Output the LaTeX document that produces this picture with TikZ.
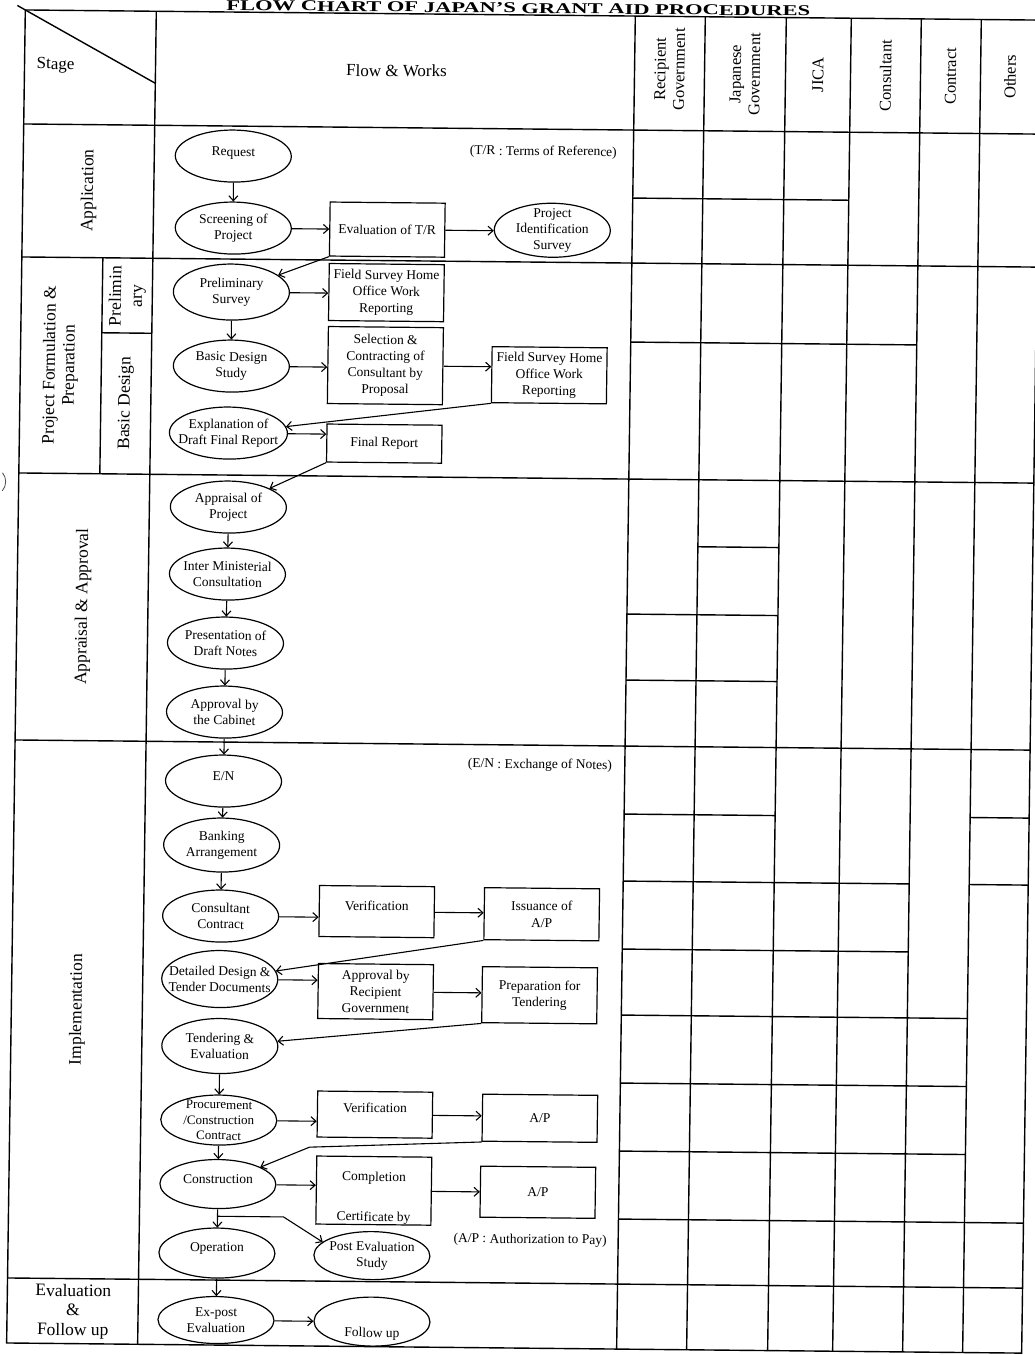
\documentclass[tikz,border=0pt]{standalone}
\usepackage{fontspec}
\setmainfont{Liberation Serif}
\usetikzlibrary{arrows.meta,shapes.geometric}
\tikzset{
  gridline/.style={line width=1.4pt},
  ellshape/.style={draw, ellipse, line width=1.2pt, inner sep=0pt, minimum width=116pt, minimum height=52pt},
  ftxt/.style={font=\fontsize{13.5}{16}\selectfont, align=center, inner sep=0pt},
  ell/.style={ellshape, label={[ftxt]center:#1}},
  boxn/.style={draw, rectangle, line width=1.2pt, inner sep=0pt, minimum width=115pt, font=\fontsize{13.5}{16.5}\selectfont, align=center},
  arr/.style={-{Straight Barb[length=5pt,width=9pt]}, line width=1.1pt},
  hdr/.style={font=\fontsize{16.5}{19}\selectfont, rotate=90, align=center, inner sep=0pt},
  stg/.style={font=\fontsize{17.5}{19.5}\selectfont, align=center, inner sep=0pt},
  notetxt/.style={font=\fontsize{13.5}{16}\selectfont, inner sep=0pt},
}
\begin{document}
\begin{tikzpicture}[x=1pt,y=-1pt]
\fill[white] (0,0) rectangle (1035,1355);
\useasboundingbox (0,0) rectangle (1035,1355);
\begin{scope}[cm={1,-0.01,0.014,1,(9.52pt,5.2pt)}, every node/.append style={transform shape}]
% title
\node[font=\fontsize{15}{17}\selectfont\bfseries, anchor=base, inner sep=0pt, xscale=1.5] (title) at (509,13.2) {FLOW CHART OF JAPAN'S GRANT AID PROCEDURES};
% grid
\draw[gridline] (16,15) rectangle (1031,1348);
\draw[gridline] (147,15) -- (147,1348);
\foreach \u in {626,696,777,842,912,972} \draw[gridline] (\u,15) -- (\u,1348);
\foreach \v in {129,262,478,745,1283} \draw[gridline] (16,\v) -- (1031,\v);
\draw[gridline] (626,1218) -- (1031,1218);
\draw[gridline] (97,262) -- (97,478);
\draw[gridline] (97,337) -- (147,337);
\draw[gridline] (626,197) -- (842,197);
\draw[gridline] (626,341) -- (912,341);
\draw[gridline] (696,545) -- (777,545);
\draw[gridline] (626,613) -- (777,613);
\draw[gridline] (626,679) -- (777,679);
\draw[gridline] (626,813) -- (777,813) (972,813) -- (1031,813);
\draw[gridline] (626,880) -- (912,880) (972,880) -- (1031,880);
\draw[gridline] (626,948) -- (912,948);
\foreach \v in {1014,1082,1150} \draw[gridline] (626,\v) -- (972,\v);
\draw[gridline] (8,10.6) -- (147,87);
\draw[line width=0.8pt, black!70] (-11,487) ++(-40:14) arc[start angle=-40,end angle=40,radius=14];
% headers
\node[font=\fontsize{17}{19}\selectfont, inner sep=0pt] (hstage) at (47,70) {Stage};
\node[font=\fontsize{17}{19}\selectfont, inner sep=0pt] (hflow) at (388,72) {Flow \& Works};
\node[hdr] (hrec) at (661,68) {Recipient\\Government};
\node[hdr] (hjap) at (736.5,72) {Japanese\\Government};
\node[hdr] (hjica) at (809.5,72) {JICA};
\node[hdr] (hcons) at (877,72) {Consultant};
\node[hdr] (hcont) at (942,72) {Contract};
\node[hdr] (hoth) at (1001.5,72) {Others};
% stage labels
\node[stg, rotate=90] (sapp) at (82,195) {Application};
\node[stg, rotate=90] (spf) at (56,370) {Project Formulation \&\\Preparation};
\node[stg, rotate=90, font=\fontsize{17.5}{21}\selectfont] (spre) at (122,300) {Prelimin\\ary};
\node[stg, rotate=90] (sbd) at (122,407) {Basic Design};
\node[stg, rotate=90] (saa) at (82,611) {Appraisal \& Approval};
\node[stg, rotate=90] (simp) at (82,1014) {Implementation};
\node[stg] (sev) at (82,1316) {Evaluation\\\&\\Follow up};
% notes
\node[notetxt] (ntr) at (536,152) {(T/R : Terms of Reference)};
\node[notetxt] (nen) at (541,765) {(E/N : Exchange of Notes)};
\node[notetxt] (nap) at (538,1240) {(A/P : Authorization to Pay)};
% application
\node[ellshape, label={[ftxt,yshift=3pt]center:Request}] (req) at (226,159) {};
\node[ell={Screening of\\Project}] (scr) at (227,231) {};
\node[boxn, minimum height=54pt] (evtr) at (381,231) {Evaluation of T/R};
\node[ell={Project\\Identification\\Survey}, minimum height=54pt] (pis) at (546,230) {};
% project formulation
\node[ell={Preliminary\\Survey}, minimum height=56pt] (prel) at (226,295) {};
\node[boxn, minimum height=57pt] (fs1) at (381,294) {Field Survey Home\\Office Work\\Reporting};
\node[ell={Basic Design\\Study}] (bds) at (227,369) {};
\node[boxn, minimum height=77pt] (sel) at (381,367) {Selection \&\\Contracting of\\Consultant by\\Proposal};
\node[boxn, minimum height=56pt] (fs2) at (545,375) {Field Survey Home\\Office Work\\Reporting};
\node[ell={Explanation of\\Draft Final Report}, minimum width=118pt] (expl) at (225,436) {};
\node[boxn, minimum height=38pt] (fr) at (381,445) {Final Report};
% appraisal
\node[ell={Appraisal of\\Project}] (appr) at (226,510) {};
\node[ell={Inter Ministerial\\Consultation}] (imc) at (226,577) {};
\node[ell={Presentation of\\Draft Notes}] (pdn) at (225,646) {};
\node[ell={Approval by\\the Cabinet}] (abc) at (225,715) {};
% implementation
\node[ellshape, label={[ftxt,yshift=5pt]center:E/N}] (en) at (225,784) {};
\node[ell={Banking\\Arrangement}, minimum height=54pt] (bank) at (224,848) {};
\node[ell={Consultant\\Contract}] (cc) at (224,919) {};
\node[boxn, minimum height=51pt, label={[ftxt,yshift=6pt]center:Verification}] (ver1) at (380,913) {};
\node[boxn, minimum height=52pt] (iss) at (545,914) {Issuance of\\A/P};
\node[ell={Detailed Design \&\\Tender Documents}, minimum height=57pt] (dd) at (224,982) {};
\node[boxn, minimum height=55pt] (arg) at (380,993) {Approval by\\Recipient\\Government};
\node[boxn, minimum height=56pt] (prep) at (544,995) {Preparation for\\Tendering};
\node[ell={Tendering \&\\Evaluation}, minimum height=55pt] (tend) at (225,1049) {};
\node[ellshape, minimum height=50pt, label={[ftxt,font=\fontsize{13}{15.5}\selectfont]center:Procurement\\/Construction\\Contract}] (proc) at (225,1123) {};
\node[boxn, minimum height=46pt, label={[ftxt,yshift=7pt]center:Verification}] (ver2) at (381,1116) {};
\node[boxn, minimum height=47pt] (ap1) at (546,1118) {A/P};
\node[ellshape, minimum height=49pt, label={[ftxt,yshift=5pt]center:Construction}] (cons) at (225,1187) {};
\node[boxn, minimum height=68pt, label={[ftxt,yshift=13pt]center:Completion}, label={[ftxt,yshift=-27pt]center:Certificate by}] (compl) at (381,1192) {};
\node[boxn, minimum height=51pt] (ap2) at (545,1192) {A/P};
\node[ellshape, minimum height=50pt, label={[ftxt,yshift=5pt]center:Operation}] (oper) at (225,1256) {};
\node[ell={Post Evaluation\\Study}, minimum height=48pt] (pes) at (380,1257) {};
% evaluation
\node[ell={Ex-post\\Evaluation}, minimum height=47pt] (expost) at (225,1323) {};
\node[ellshape, minimum height=49pt, label={[ftxt,yshift=-12pt]center:Follow up}] (fol) at (381,1323) {};
% helper coordinates
\coordinate (brA) at (225,1219);
\coordinate (brB) at (291,1219);
\coordinate (apk) at (316,1149);
% connectors
\draw[arr] (req) -- (scr);
\draw[arr] (scr.east) -- (scr.east -| evtr.west);
\draw[arr] (evtr.east) -- (evtr.east -| pis.west);
\draw[arr] (evtr.south west) -- (prel);
\draw[arr] (prel.east) -- (prel.east -| fs1.west);
\draw[arr] (prel) -- (bds);
\draw[arr] (bds.east) -- (bds.east -| sel.west);
\draw[arr] (sel.east) -- (sel.east -| fs2.west);
\draw[arr] (fs2.south west) -- (expl);
\draw[arr] (expl.east) -- (expl.east -| fr.west);
\draw[arr] (fr.south west) -- (appr);
\draw[arr] (appr) -- (imc);
\draw[arr] (imc) -- (pdn);
\draw[arr] (pdn) -- (abc);
\draw[arr] (abc) -- (en);
\draw[arr] (en) -- (bank);
\draw[arr] (bank) -- (cc);
\draw[arr] (cc.east) -- (cc.east -| ver1.west);
\draw[arr] (ver1.east) -- (ver1.east -| iss.west);
\draw[arr] (iss.south west) -- (dd);
\draw[arr] (dd.east) -- (dd.east -| arg.west);
\draw[arr] (arg.east) -- (arg.east -| prep.west);
\draw[arr] (prep.south west) -- (tend);
\draw[arr] (tend) -- (proc);
\draw[arr] (proc.east) -- (proc.east -| ver2.west);
\draw[arr] (ver2.east) -- (ver2.east -| ap1.west);
\draw[arr] (ap1.south west) -- (apk) -- (cons);
\draw[arr] (proc) -- (cons);
\draw[arr] (cons.east) -- (cons.east -| compl.west);
\draw[arr] (compl.east) -- (compl.east -| ap2.west);
\draw[arr] (cons) -- (oper);
\draw[arr] (brA) -- (brB) -- (pes.165);
\draw[arr] (oper) -- (expost);
\draw[arr] (expost.east) -- (expost.east -| fol.west);
\end{scope}
\end{tikzpicture}
\end{document}
